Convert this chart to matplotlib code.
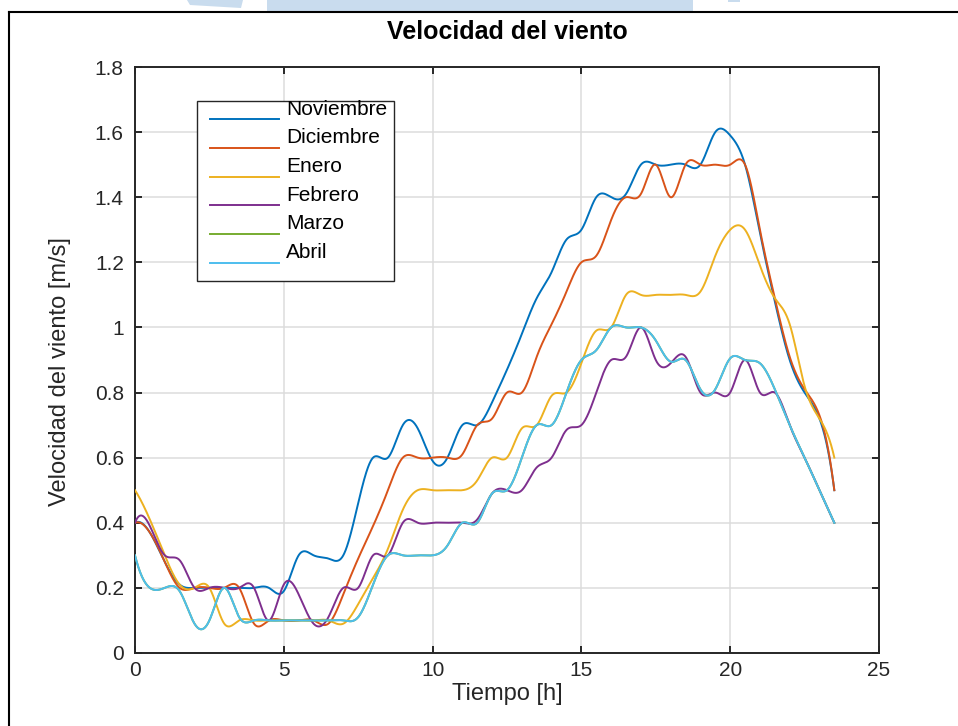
import numpy as np
import matplotlib
matplotlib.use('Agg')
import matplotlib.pyplot as plt
from matplotlib.patches import Rectangle, Polygon
from matplotlib.lines import Line2D

plt.rcParams['font.family'] = ['Liberation Sans', 'DejaVu Sans']

# half-hourly wind speed [m/s]
hours = np.arange(0, 24, 0.5)

noviembre = [0.40, 0.37, 0.28, 0.21, 0.20, 0.20, 0.20, 0.20, 0.20, 0.20,
             0.19, 0.30, 0.30, 0.29, 0.30, 0.46, 0.60, 0.60, 0.70, 0.69,
             0.59, 0.60, 0.70, 0.70, 0.77, 0.87, 0.98, 1.09, 1.17, 1.27,
             1.30, 1.40, 1.40, 1.41, 1.50, 1.50, 1.50, 1.50, 1.50, 1.60,
             1.59, 1.50, 1.29, 1.08, 0.90, 0.80, 0.72, 0.50]
diciembre = [0.40, 0.37, 0.28, 0.20, 0.20, 0.20, 0.20, 0.20, 0.09, 0.10,
             0.10, 0.10, 0.10, 0.09, 0.18, 0.29, 0.39, 0.50, 0.60, 0.60,
             0.60, 0.60, 0.61, 0.70, 0.72, 0.80, 0.80, 0.91, 1.01, 1.11,
             1.20, 1.22, 1.33, 1.40, 1.41, 1.50, 1.40, 1.50, 1.50, 1.50,
             1.50, 1.50, 1.30, 1.09, 0.91, 0.81, 0.73, 0.50]
enero = [0.50, 0.41, 0.30, 0.21, 0.20, 0.20, 0.09, 0.10, 0.10, 0.10,
         0.10, 0.10, 0.10, 0.10, 0.09, 0.15, 0.23, 0.32, 0.44, 0.50,
         0.50, 0.50, 0.50, 0.53, 0.60, 0.60, 0.69, 0.70, 0.79, 0.80,
         0.89, 0.99, 1.00, 1.10, 1.10, 1.10, 1.10, 1.10, 1.11, 1.22,
         1.30, 1.30, 1.19, 1.09, 1.01, 0.82, 0.72, 0.60]
febrero = [0.40, 0.39, 0.30, 0.285, 0.20, 0.20, 0.20, 0.20, 0.20, 0.10,
           0.21, 0.18, 0.09, 0.11, 0.20, 0.20, 0.30, 0.30, 0.40, 0.40,
           0.40, 0.40, 0.40, 0.41, 0.49, 0.50, 0.50, 0.57, 0.60, 0.685,
           0.70, 0.80, 0.90, 0.91, 1.00, 0.90, 0.89, 0.91, 0.80, 0.80,
           0.80, 0.90, 0.80, 0.80, 0.70, 0.60, 0.50, 0.40]
abril = [0.30, 0.20, 0.20, 0.19, 0.09, 0.10, 0.20, 0.11, 0.10, 0.10,
         0.10, 0.10, 0.10, 0.10, 0.10, 0.11, 0.21, 0.30, 0.30, 0.30,
         0.30, 0.33, 0.40, 0.40, 0.49, 0.50, 0.60, 0.70, 0.70, 0.80,
         0.90, 0.93, 1.00, 1.00, 1.00, 0.96, 0.895, 0.90, 0.81, 0.81,
         0.905, 0.90, 0.89, 0.81, 0.70, 0.60, 0.50, 0.40]
marzo = list(abril)  # hidden under Abril in the original

labels = ['Noviembre', 'Diciembre', 'Enero', 'Febrero', 'Marzo', 'Abril']
series = [noviembre, diciembre, enero, febrero, marzo, abril]
colors = ['#0072BD', '#D95319', '#EDB120', '#7E2F8E', '#77AC30', '#4DBEEE']


def spline_curve(x, y, n=2000):
    # not-a-knot cubic spline, the smoothing used for the original curves
    x = np.asarray(x, float)
    y = np.asarray(y, float)
    m = len(x)
    h = x[1] - x[0]
    A = np.zeros((m, m))
    b = np.zeros(m)
    A[0, :3] = [1, -2, 1]
    A[-1, -3:] = [1, -2, 1]
    for i in range(1, m - 1):
        A[i, i - 1:i + 2] = [1, 4, 1]
        b[i] = 6 / h ** 2 * (y[i - 1] - 2 * y[i] + y[i + 1])
    M = np.linalg.solve(A, b)
    xs = np.linspace(x[0], x[-1], n)
    k = np.clip(((xs - x[0]) // h).astype(int), 0, m - 2)
    a = x[k + 1] - xs
    c = xs - x[k]
    ys = (M[k] * a ** 3 + M[k + 1] * c ** 3) / (6 * h) \
        + (y[k] / h - M[k] * h / 6) * a + (y[k + 1] / h - M[k + 1] * h / 6) * c
    return xs, ys


fig = plt.figure(figsize=(9.58, 7.26), dpi=100)
ax = fig.add_axes([0.1409, 0.1006, 0.7766, 0.8071])

dark = '#262626'
for vals, col in zip(series, colors):
    xs, ys = spline_curve(hours, vals)
    ax.plot(xs, ys, color=col, lw=1.4, zorder=3)

ax.set_xlim(0, 25)
ax.set_ylim(0, 1.8)
ax.set_xticks([0, 5, 10, 15, 20, 25])
ax.set_yticks(np.arange(0, 1.81, 0.2))
ax.set_yticklabels(['0', '0.2', '0.4', '0.6', '0.8', '1', '1.2', '1.4', '1.6', '1.8'])
ax.grid(True, color='#DCDCDC', lw=1.1)
ax.set_axisbelow(True)
ax.tick_params(direction='in', length=5, width=1.4, top=True, right=True,
               labelsize=15, colors=dark, pad=6)
ax.tick_params(axis='y', pad=8)
for s in ax.spines.values():
    s.set_linewidth(1.4)
    s.set_color(dark)

ax.set_title('Velocidad del viento', fontsize=18, fontweight='bold', pad=20)
ax.set_xlabel('Tiempo [h]', fontsize=17, color=dark)
ax.set_ylabel('Velocidad del viento [m/s]', fontsize=17, color=dark)
ax.xaxis.set_label_coords(0.5, -0.052)
ax.yaxis.set_label_coords(-0.086, 0.48)

# legend drawn like the MATLAB export (labels sit a bit above their lines)
ax.add_patch(Rectangle((0.0833, 0.635), 0.2648, 0.307, transform=ax.transAxes,
                       fc='white', ec=dark, lw=1.0, zorder=5))
for i, (lab, col) in enumerate(zip(labels, colors)):
    yy = 0.9108 - i * 0.04898
    ax.add_line(Line2D([0.1008, 0.1935], [yy, yy], transform=ax.transAxes,
                       color=col, lw=1.4, zorder=6))
    ax.text(0.203, yy + 0.0175, lab, transform=ax.transAxes, va='center',
            fontsize=15, color='black', zorder=6)

# page frame and watermark fragments above it
W, H = 958, 726
wm = '#C9DCEE'
fig.add_artist(Polygon([(187 / W, 1), (243 / W, 1), (241 / W, 1 - 8 / H), (190 / W, 1 - 5 / H)],
                       closed=True, transform=fig.transFigure, fc=wm, ec='none'))
fig.add_artist(Rectangle((267 / W, 1 - 11 / H), (693 - 267) / W, 11 / H,
                         transform=fig.transFigure, fc=wm, ec='none'))
fig.add_artist(Rectangle((728 / W, 1 - 2 / H), 12 / W, 2 / H,
                         transform=fig.transFigure, fc=wm, ec='none'))
fig.add_artist(Line2D([8.5 / W, 1], [1 - 12 / H, 1 - 12 / H], transform=fig.transFigure,
                      color='black', lw=1.5))
fig.add_artist(Line2D([8.5 / W, 8.5 / W], [0, 1 - 12 / H], transform=fig.transFigure,
                      color='black', lw=1.5))

fig.savefig('out.png', dpi=100)
